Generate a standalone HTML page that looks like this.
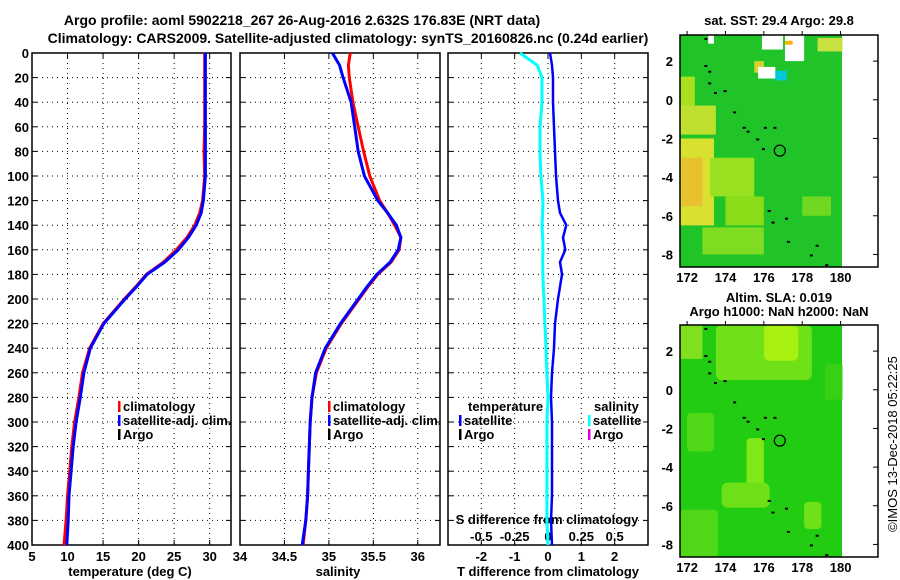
<!DOCTYPE html>
<html><head><meta charset="utf-8"><style>
body{margin:0;background:#fff;}
svg{display:block;font-family:"Liberation Sans",sans-serif;font-weight:bold;}
</style></head><body>
<svg id="c" width="900" height="580" viewBox="0 0 900 580" xmlns="http://www.w3.org/2000/svg">
<text x="302" y="25" font-size="14" text-anchor="middle">Argo profile: aoml 5902218_267 26-Aug-2016 2.632S 176.83E (NRT data)</text>
<text x="348" y="43" font-size="14" text-anchor="middle">Climatology: CARS2009. Satellite-adjusted climatology: synTS_20160826.nc (0.24d earlier)</text>
<g id="g"></g>
</svg>
<script>
const depths = [0,10,20,40,60,80,100,120,130,140,150,160,170,180,190,200,220,240,260,280,300,320,340,360,380,400];
const tempClim = [29.3,29.3,29.3,29.3,29.3,29.2,29.3,29.0,28.6,27.9,26.8,25.3,23.5,21.1,19.6,18.0,15.0,13.1,12.1,11.6,11.0,10.6,10.3,10.0,9.8,9.5];
const tempSat  = [29.4,29.4,29.4,29.4,29.4,29.4,29.4,29.1,28.8,28.1,27.0,25.6,23.7,21.2,19.7,18.1,15.1,13.2,12.3,11.8,11.2,10.8,10.5,10.2,10.1,9.9];
const salClim = [35.24,35.22,35.23,35.27,35.33,35.39,35.46,35.57,35.66,35.74,35.81,35.79,35.70,35.55,35.44,35.34,35.14,34.97,34.86,34.81,34.79,34.78,34.77,34.76,34.74,34.71];
const salSat  = [35.04,35.12,35.16,35.25,35.29,35.33,35.40,35.55,35.66,35.76,35.81,35.78,35.69,35.54,35.43,35.33,35.13,34.96,34.85,34.81,34.79,34.78,34.77,34.76,34.74,34.70];
const tDiff = [0.06,0.12,0.15,0.15,0.18,0.21,0.24,0.30,0.36,0.55,0.45,0.52,0.36,0.42,0.36,0.30,0.21,0.18,0.12,0.09,0.12,0.12,0.12,0.12,0.09,0.12];
const sDiff = [-0.21,-0.08,-0.045,-0.045,-0.06,-0.06,-0.053,-0.038,-0.04,-0.045,-0.04,-0.038,-0.04,-0.038,-0.035,-0.03,-0.023,-0.015,-0.008,0,-0.008,-0.008,-0.008,-0.008,-0.008,0];
const depthTicks = [0,20,40,60,80,100,120,140,160,180,200,220,240,260,280,300,320,340,360,380,400];
const tTicks = [5,10,15,20,25,30];
const sTicks = ["34","34.5","35","35.5","36"];
const dTTicks = [-2,-1,0,1,2];
const dSTicks = ["-0.5","-0.25","0","0.25","0.5"];
const latTicks = [2,0,-2,-4,-6,-8];
const lonTicks = [172,174,176,178,180];

const NS="http://www.w3.org/2000/svg", G=document.getElementById('g');
function el(t,a,p){const e=document.createElementNS(NS,t);for(const k in a)e.setAttribute(k,a[k]);(p||G).appendChild(e);return e;}
function tx(s,x,y,a,sz){const e=el('text',{x:x,y:y,'font-size':sz||13,'text-anchor':a||'middle'});e.textContent=s;return e;}
const Y0=53,Y1=545;
const yD=d=>Y0+d/400*(Y1-Y0);
function lin(d0,d1,p0,p1){return v=>p0+(v-d0)/(d1-d0)*(p1-p0);}
const panels=[{x0:32,x1:231,name:'temperature-panel'},{x0:240,x1:440,name:'salinity-panel'},{x0:448,x1:648,name:'difference-panel'}];
const xT=lin(5,33,32,231), xS=lin(34,36.25,240,440), xDT=lin(-3,3,448,648), xDS=lin(-0.75,0.75,448,648);
function grid(p,xs){
  const g=el('g',{});
  
  
  depthTicks.forEach(d=>{if(d>0&&d<400)el('line',{x1:p.x0,x2:p.x1,y1:yD(d),y2:yD(d),stroke:'#000','stroke-dasharray':'1,4'},g);
    el('line',{x1:p.x0,x2:p.x0+5,y1:yD(d),y2:yD(d),stroke:'#000'},g);el('line',{x1:p.x1-5,x2:p.x1,y1:yD(d),y2:yD(d),stroke:'#000'},g);});
  xs.forEach(x=>{el('line',{x1:x,x2:x,y1:Y0,y2:Y1,stroke:'#000','stroke-dasharray':'1,4'},g);
    el('line',{x1:x,x2:x,y1:Y1-5,y2:Y1,stroke:'#000'},g);el('line',{x1:x,x2:x,y1:Y0,y2:Y0+5,stroke:'#000'},g);});
  const r=el('rect',{x:p.x0,y:Y0,width:p.x1-p.x0,height:Y1-Y0,fill:'none',stroke:'#000','stroke-width':1.5},g);
  
  
}
grid(panels[0],tTicks.map(xT));
grid(panels[1],sTicks.map(s=>xS(+s)));
grid(panels[2],dTTicks.map(xDT));
depthTicks.forEach(d=>{const t=tx(String(d),29,yD(d)+5,'end');});
tTicks.forEach(v=>{const t=tx(String(v),xT(v),561);});
sTicks.forEach(v=>{const t=tx(v,xS(+v),561);});
dTTicks.forEach(v=>{const t=tx(String(v),xDT(v),561);});
dSTicks.forEach(v=>{const t=tx(v,xDS(+v),541);});
let t;
t=tx('temperature (deg C)',130,576);
t=tx('salinity',338,576);
t=tx('T difference from climatology',548,576);
t=tx('S difference from climatology',547,524);

function line(vals,xf,col,name,w){
  const pts=vals.map((v,i)=>xf(v).toFixed(1)+','+yD(depths[i]).toFixed(1)).join(' ');
  const p=el('polyline',{points:pts,fill:'none',stroke:col,'stroke-width':w||3});
  
  
}
line(tempClim,xT,'#f00','temperature-climatology-line');
line(tempSat,xT,'#00f','temperature-satellite-line');
line(salClim,xS,'#f00','salinity-climatology-line');
line(salSat,xS,'#00f','salinity-satellite-line');
line(sDiff,xDS,'#0ff','salinity-diff-satellite-line');
line(tDiff,xDT,'#00f','temperature-diff-satellite-line',2.5);

function leg(x,y,col,label,name){
  const g=el('g',{});
  
  
  el('rect',{x:x,y:y-10,width:2.5,height:11,fill:col},g);
  const e=el('text',{x:x+5,y:y,'font-size':13},g);e.textContent=label;
}
[[118,0,'climatology','#f00'],[118,1,'satellite-adj. clim.','#00f'],[118,2,'Argo','#000']].forEach(a=>leg(a[0],411+a[1]*14,a[3],a[2],'legend-entry-temp'));
[[328,0,'climatology','#f00'],[328,1,'satellite-adj. clim.','#00f'],[328,2,'Argo','#000']].forEach(a=>leg(a[0],411+a[1]*14,a[3],a[2],'legend-entry-sal'));
t=tx('temperature',468,411,'start');
leg(459,425,'#00f','satellite','legend-entry-t-satellite');leg(459,439,'#000','Argo','legend-entry-t-argo');
t=tx('salinity',594,411,'start');
leg(588,425,'#0ff','satellite','legend-entry-s-satellite');leg(588,439,'#e000e0','Argo','legend-entry-s-argo');

/* maps */
function map(y0,name,title1,title2,blobs,base){
  const g=el('g',{});
  
  
  const lon=lin(171.63,181.95,680,878), lat=lin(3.35,-8.65,y0,y0+232);
  el('rect',{x:680,y:y0,width:162,height:232,fill:base},g);
  blobs.forEach(b=>el('rect',{x:lon(b[0]),y:lat(b[1]),width:lon(b[2])-lon(b[0]),height:lat(b[3])-lat(b[1]),fill:b[4],rx:b[5]||0},g));
  [[172.9,3.2],[172.9,1.8],[173.1,1.5],[173.1,0.9],[173.4,0.4],[173.9,0.5],[174.4,-0.6],[174.9,-1.4],[175.1,-1.6],[175.6,-2.0],[176,-1.4],[176.5,-1.4],[175.9,-2.5],[176.2,-5.7],[176.4,-6.3],[177.1,-6.1],[177.2,-7.3],[178.4,-8.0],[178.7,-7.5],[179.2,-8.5]].forEach(p=>el('rect',{x:lon(p[0]),y:lat(p[1]),width:3,height:2,fill:'#000'},g));
  el('circle',{cx:lon(176.83),cy:lat(-2.632),r:5.5,fill:'none',stroke:'#000','stroke-width':1.2},g);
  el('rect',{x:680,y:y0,width:198,height:232,fill:'none',stroke:'#000','stroke-width':1.5},g);
  latTicks.forEach(v=>{const e=el('text',{x:673,y:lat(v)+5,'font-size':13,'text-anchor':'end'},g);e.textContent=v;
    el('line',{x1:873,x2:878,y1:lat(v),y2:lat(v),stroke:'#000'},g);});
  lonTicks.forEach(v=>{const e=el('text',{x:lon(v),y:y0+247,'font-size':13,'text-anchor':'middle'},g);e.textContent=v;
    el('line',{x1:lon(v),x2:lon(v),y1:y0,y2:y0-4,stroke:'#000'},g);});
  let e=el('text',{x:779,y:title2?y0-23:y0-10,'font-size':13,'text-anchor':'middle'},g);e.textContent=title1;
  if(title2){e=el('text',{x:779,y:y0-9,'font-size':13,'text-anchor':'middle'},g);e.textContent=title2;}
}
map(35,'sst-map','sat. SST: 29.4 Argo: 29.8',null,[
 [171.63,1.2,172.4,-1.2,'#a8e020'],[171.63,-0.3,173.5,-1.8,'#c0e030'],[171.63,-2,173.4,-6.5,'#d8e030'],[171.7,-3,172.8,-5.5,'#e8c030'],
 [173.2,-3,175.5,-5,'#98e020'],[174,-5,176,-6.5,'#88dc18'],[175.5,2,176,1.4,'#d8d030'],[172.8,-6.6,176,-8,'#80dc20'],
 [176,-1,180.1,3.35,'#18c040'],[178,-5,179.5,-6,'#70d820'],[178.8,3.2,180.1,2.5,'#c8e040'],
 [173.1,3.35,173.4,2.9,'#fff'],[175.9,3.35,177,2.6,'#fff'],[177.1,3.35,178.1,2.0,'#fff'],[175.7,1.7,176.6,1.1,'#fff'],
 [176.6,1.5,177.2,1.0,'#00c8d8'],[177.1,3.05,177.5,2.85,'#f8b000']
],'#20c428');
map(325,'sla-map','Altim. SLA: 0.019','Argo h1000: NaN h2000: NaN',[
 [171.63,3.35,172.8,1.6,'#80e020'],[173.5,3.35,178.5,0.5,'#70e018',6],[176,3.35,177.8,1.5,'#a8f010',6],
 [175.1,-2.5,176,-5.4,'#80e818',4],[173.8,-4.8,176.3,-6.1,'#6ee018',6],[178.1,-5.8,179,-7.2,'#70e018',4],
 [172,-1.2,173.4,-3.2,'#50d818',4],[171.63,-6.2,173.6,-8.65,'#50d818',4],[179.2,1.3,180.1,-0.5,'#38d014']
],'#22cc12');
t=el('text',{x:897,y:444,'font-size':13,'font-weight':'normal','text-anchor':'middle',transform:'rotate(-90 897 444)'});
t.textContent='©IMOS 13-Dec-2018 05:22:25';


</script>
</body></html>
